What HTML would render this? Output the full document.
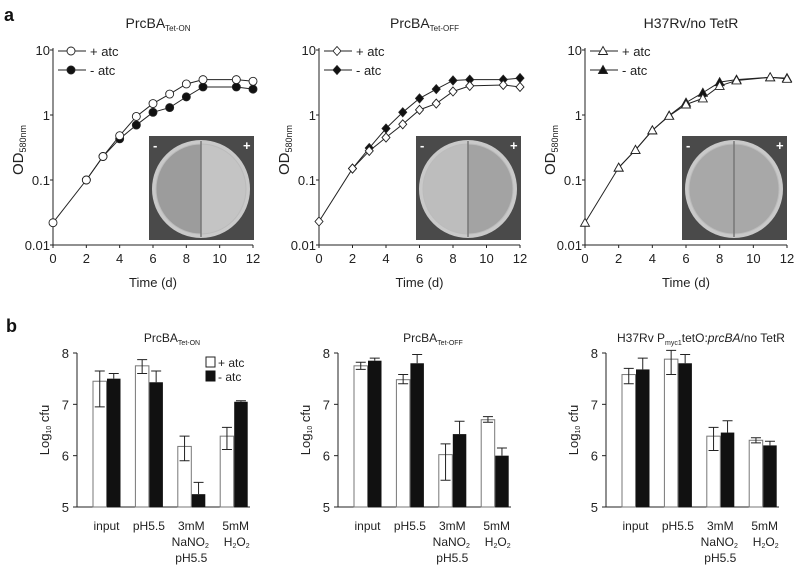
<!DOCTYPE html>
<html><head><meta charset="utf-8"><style>
body{margin:0;background:#fff}
svg{display:block;font-family:"Liberation Sans",Arial,sans-serif}
</style></head><body>
<svg id="fig" width="800" height="566" viewBox="0 0 800 566" xmlns="http://www.w3.org/2000/svg"></svg>
<script>
const days=[0,2,3,4,5,6,7,8,9,11,12];
const onPlus=[0.022,0.1,0.23,0.48,0.95,1.5,2.1,3.0,3.5,3.5,3.3];
const onMinus=[null,0.1,0.23,0.43,0.7,1.1,1.3,1.9,2.7,2.7,2.5];
const offPlus=[0.023,0.15,0.28,0.45,0.72,1.2,1.5,2.3,2.8,2.9,2.7];
const offMinus=[null,0.15,0.31,0.62,1.1,1.8,2.5,3.4,3.5,3.5,3.7];
const h37Plus=[0.022,0.155,0.29,0.58,0.97,1.45,1.8,2.8,3.4,3.8,3.6];
const h37Minus=[null,0.155,0.29,0.58,0.98,1.55,2.2,3.2,3.5,3.8,3.7];
const xTicks=[0,2,4,6,8,10,12];
const yTicks=[10,1,0.1,0.01];
const yTickLabels=["10","1","0.1","0.01"];
const categories=["input","pH5.5","3mM","5mM"];
const b1White=[7.45,7.75,6.18,6.38], b1WLo=[6.95,7.6,5.9,6.12], b1WHi=[7.65,7.87,6.38,6.55];
const b1Black=[7.5,7.43,5.25,7.05], b1BHi=[7.6,7.65,5.48,7.07];
const b2White=[7.75,7.48,6.02,6.7], b2WLo=[7.68,7.4,5.52,6.65], b2WHi=[7.82,7.58,6.23,6.76];
const b2Black=[7.85,7.8,6.42,6.0], b2BHi=[7.9,7.97,6.67,6.15];
const b3White=[7.58,7.88,6.38,6.3], b3WLo=[7.4,7.58,6.1,6.25], b3WHi=[7.7,8.05,6.55,6.35];
const b3Black=[7.68,7.8,6.45,6.2], b3BHi=[7.9,7.97,6.68,6.28];
const barTicks=[5,6,7,8];

const NS="http://www.w3.org/2000/svg";
const svg=document.getElementById('fig');
function mk(tag,attrs,parent,text){const e=document.createElementNS(NS,tag);for(const k in attrs)e.setAttribute(k,attrs[k]);if(text!==undefined)e.textContent=text;(parent||svg).appendChild(e);return e;}

function marker(g,shape,filled,x,y){
  const f=filled?'#111':'#fff';let m;
  if(shape==='circle')m=mk('circle',{cx:x,cy:y,r:4,fill:f,stroke:'#222','stroke-width':0.9},g);
  else if(shape==='diamond')m=mk('polygon',{points:`${x},${y-4.5} ${x+4},${y} ${x},${y+4.5} ${x-4},${y}`,fill:f,stroke:'#222','stroke-width':0.9},g);
  else m=mk('polygon',{points:`${x},${y-4.5} ${x+4.5},${y+3.5} ${x-4.5},${y+3.5}`,fill:f,stroke:'#222','stroke-width':0.9},g);
  
  
}

function linePanel(name,ax,xEnd,title,sub,shape,plus,minus,inset,lc,rc){
  const g=mk('g',{});  
  const yTop=50,yBot=245;
  const sx=d=>ax+(xEnd-ax)*d/12;
  const sy=v=>yTop+(1-Math.log10(v))*(yBot-yTop)/3;
  const t=mk('text',{x:(ax+xEnd)/2+5,y:28,'text-anchor':'middle','font-size':14,fill:'#222'},g);
  
  t.appendChild(document.createTextNode(title));
  if(sub){mk('tspan',{'font-size':8,dy:3},t,sub);}
  const ig=mk('g',{},g);  
  mk('rect',{x:inset,y:136,width:105,height:104,fill:'#4a4a4a'},ig);
  const cx=inset+52,cy=189;
  mk('circle',{cx:cx,cy:cy,r:49,fill:'#c9c9c9'},ig);
  mk('path',{d:`M${cx},${cy-45}A45,45 0 0 0 ${cx},${cy+45}Z`,fill:lc},ig);
  mk('path',{d:`M${cx},${cy-45}A45,45 0 0 1 ${cx},${cy+45}Z`,fill:rc},ig);
  mk('circle',{cx:cx,cy:cy,r:45,fill:'none',stroke:'#bbb','stroke-width':1},ig);
  mk('line',{x1:cx,y1:cy-48,x2:cx,y2:cy+48,stroke:'#777','stroke-width':1.5},ig);
  mk('text',{x:inset+4,y:150,fill:'#fff','font-size':13,'font-weight':'bold'},ig,'-');
  mk('text',{x:inset+94,y:150,fill:'#fff','font-size':13,'font-weight':'bold'},ig,'+');
  mk('line',{x1:ax,y1:yTop-2,x2:ax,y2:yBot,stroke:'#222','stroke-width':1},g);
  mk('line',{x1:ax,y1:yBot,x2:xEnd,y2:yBot,stroke:'#222','stroke-width':1},g);
  yTicks.forEach((v,i)=>{const y=sy(v);
    mk('line',{x1:ax-3,y1:y,x2:ax,y2:y,stroke:'#222'},g);
    const l=mk('text',{x:ax-3,y:y+5,'text-anchor':'end','font-size':13,fill:'#222'},g,yTickLabels[i]);
    });
  xTicks.forEach(d=>{const x=sx(d);
    mk('line',{x1:x,y1:yBot,x2:x,y2:yBot+3,stroke:'#222'},g);
    const l=mk('text',{x:x,y:263,'text-anchor':'middle','font-size':13,fill:'#222'},g,String(d));
    });
  const xt=mk('text',{x:(ax+xEnd)/2,y:287,'text-anchor':'middle','font-size':13,fill:'#222'},g,'Time (d)');
  
  const yt=mk('text',{transform:`translate(${ax-30},150) rotate(-90)`,'text-anchor':'middle','font-size':15,fill:'#222'},g,'OD');
  
  mk('tspan',{'font-size':9,dy:3},yt,'580nm');
  [[minus,true],[plus,false]].forEach(([arr,filled])=>{
    const pts=[];arr.forEach((v,i)=>{if(v!=null)pts.push([sx(days[i]),sy(v)]);});
    const pl=mk('polyline',{points:pts.map(p=>p.join(',')).join(' '),fill:'none',stroke:'#222','stroke-width':1},g);
    
    pts.forEach(p=>marker(g,shape,filled,p[0],p[1]));
  });
  [['+ atc',false,51],['- atc',true,70]].forEach(([lab,filled,y])=>{
    const lg=mk('g',{},g);
    mk('line',{x1:ax+5,y1:y,x2:ax+33,y2:y,stroke:'#222'},lg);
    marker(lg,shape,filled,ax+18,y);
    mk('text',{x:ax+37,y:y+5,'font-size':13,fill:'#222'},lg,lab);
  });
}

function barPanel(name,ax,title,W,WLo,WHi,B,BHi,legend){
  const g=mk('g',{});  
  const yTop=353,yBot=507;
  const sy=v=>yBot-(v-5)*(yBot-yTop)/3;
  const t=mk('text',{x:ax+95,y:342,'text-anchor':'middle','font-size':12,fill:'#222'},g);
  
  title.forEach(p=>{const ts=mk('tspan',p[1]?{'font-size':7,dy:3}:{dy:p[2]||0},t,p[0]);if(p[3])ts.setAttribute('font-style','italic');});
  mk('line',{x1:ax,y1:yTop,x2:ax,y2:yBot,stroke:'#222'},g);
  mk('line',{x1:ax,y1:yBot,x2:ax+173,y2:yBot,stroke:'#222'},g);
  barTicks.forEach(v=>{const y=sy(v);
    mk('line',{x1:ax-4,y1:y,x2:ax,y2:y,stroke:'#222'},g);
    const l=mk('text',{x:ax-8,y:y+5,'text-anchor':'end','font-size':13,fill:'#222'},g,String(v));
    });
  const yt=mk('text',{transform:`translate(${ax-28},430) rotate(-90)`,'text-anchor':'middle','font-size':13,fill:'#222'},g,'Log');
  
  mk('tspan',{'font-size':7,dy:2},yt,'10');mk('tspan',{dy:-2},yt,' cfu');
  categories.forEach((c,i)=>{
    const x0=ax+16+i*42.4;
    const wr=mk('rect',{x:x0,y:sy(W[i]),width:13.5,height:yBot-sy(W[i]),fill:'#fff',stroke:'#777','stroke-width':1},g);
    
    const br=mk('rect',{x:x0+14,y:sy(B[i]),width:13.5,height:yBot-sy(B[i]),fill:'#111'},g);
    
    const wx=x0+6.75,bx=x0+20.75;
    const e1=mk('path',{d:`M${wx},${sy(WLo[i])}V${sy(WHi[i])}M${wx-5},${sy(WHi[i])}H${wx+5}M${wx-5},${sy(WLo[i])}H${wx+5}`,stroke:'#222',fill:'none'},g);
    
    const e2=mk('path',{d:`M${bx},${sy(B[i])}V${sy(BHi[i])}M${bx-5},${sy(BHi[i])}H${bx+5}`,stroke:'#222',fill:'none'},g);
    
  });
  const lab=(x,y,txt,sub,after)=>{const l=mk('text',{x:x,y:y,'text-anchor':'middle','font-size':12,fill:'#222'},g,txt);
    
    if(sub){mk('tspan',{'font-size':7,dy:2},l,sub);if(after){mk('tspan',{dy:-2},l,after[0]);mk('tspan',{'font-size':7,dy:2},l,after[1]);}}};
  const cx=i=>ax+16+i*42.4+13.5;
  lab(cx(0),530,'input');lab(cx(1),530,'pH5.5');lab(cx(2),530,'3mM');lab(cx(3)+2,530,'5mM');
  lab(cx(2)-1,546,'NaNO','2');lab(cx(3)+3,546,'H','2',['O','2']);lab(cx(2),562,'pH5.5');
  if(legend){
    const lg=mk('g',{},g);
    mk('rect',{x:ax+129,y:357,width:9,height:10,fill:'#fff',stroke:'#222'},lg);
    mk('text',{x:ax+141,y:367,'font-size':12,fill:'#222'},lg,'+ atc');
    mk('rect',{x:ax+129,y:371,width:9,height:10,fill:'#111',stroke:'#111'},lg);
    mk('text',{x:ax+141,y:381,'font-size':12,fill:'#222'},lg,'- atc');
  }
}

const la=mk('text',{x:4,y:21,'font-size':18,'font-weight':'bold',fill:'#111'},svg,'a');

const lb=mk('text',{x:6,y:332,'font-size':18,'font-weight':'bold',fill:'#111'},svg,'b');


linePanel('growth-tet-on',53,253,'PrcBA','Tet-ON','circle',onPlus,onMinus,149,'#9c9c9c','#c4c4c4');
linePanel('growth-tet-off',319,520,'PrcBA','Tet-OFF','diamond',offPlus,offMinus,416,'#bdbdbd','#a3a3a3');
linePanel('growth-h37rv',585,787,'H37Rv/no TetR',null,'triangle',h37Plus,h37Minus,682,'#a8a8a8','#a8a8a8');

barPanel('survival-tet-on',77,[['PrcBA'],['Tet-ON',1]],b1White,b1WLo,b1WHi,b1Black,b1BHi,true);
barPanel('survival-tet-off',338,[['PrcBA'],['Tet-OFF',1]],b2White,b2WLo,b2WHi,b2Black,b2BHi,false);
barPanel('survival-h37rv',606,[['H37Rv P'],['myc1',1],['tetO:',0,-3],['prcBA',0,0,1],['/no TetR']],b3White,b3WLo,b3WHi,b3Black,b3BHi,false);
</script>
</body></html>
